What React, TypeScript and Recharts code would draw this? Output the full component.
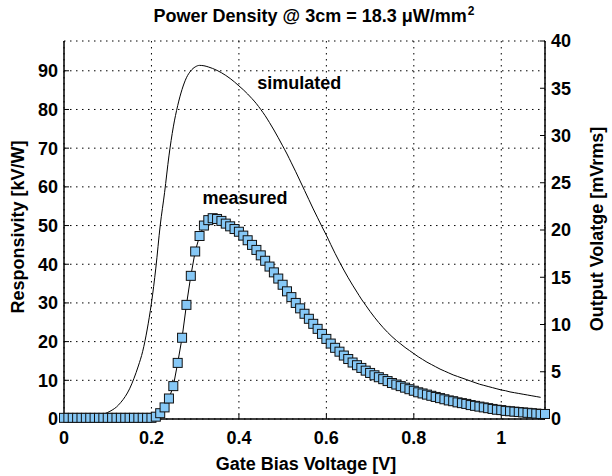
import React from 'react';
import { ComposedChart, Line, XAxis, YAxis, CartesianGrid, ReferenceDot } from 'recharts';

// gate bias sweep [V]
const gateVoltage = [
  0, 0.01, 0.02, 0.03, 0.04, 0.05, 0.06, 0.07, 0.08, 0.09,
  0.1, 0.11, 0.12, 0.13, 0.14, 0.15, 0.16, 0.17, 0.18, 0.19,
  0.2, 0.21, 0.22, 0.23, 0.24, 0.25, 0.26, 0.27, 0.28, 0.29,
  0.3, 0.31, 0.32, 0.33, 0.34, 0.35, 0.36, 0.37, 0.38, 0.39,
  0.4, 0.41, 0.42, 0.43, 0.44, 0.45, 0.46, 0.47, 0.48, 0.49,
  0.5, 0.51, 0.52, 0.53, 0.54, 0.55, 0.56, 0.57, 0.58, 0.59,
  0.6, 0.61, 0.62, 0.63, 0.64, 0.65, 0.66, 0.67, 0.68, 0.69,
  0.7, 0.71, 0.72, 0.73, 0.74, 0.75, 0.76, 0.77, 0.78, 0.79,
  0.8, 0.81, 0.82, 0.83, 0.84, 0.85, 0.86, 0.87, 0.88, 0.89,
  0.9, 0.91, 0.92, 0.93, 0.94, 0.95, 0.96, 0.97, 0.98, 0.99,
  1.0, 1.01, 1.02, 1.03, 1.04, 1.05, 1.06, 1.07, 1.08, 1.09,
  1.1,
];

// measured responsivity [kV/W]
const measured = [
  0.3, 0.3, 0.3, 0.3, 0.3, 0.3, 0.3, 0.3, 0.3, 0.3,
  0.3, 0.3, 0.3, 0.3, 0.3, 0.3, 0.3, 0.3, 0.3, 0.3,
  0.3, 0.6, 1.5, 3.0, 5.3, 8.5, 14.5, 21.0, 29.5, 37.0,
  43.3, 47.3, 50.0, 51.4, 51.9, 51.7, 51.2, 50.5, 49.8, 49.1,
  48.4, 47.4, 46.2, 45.0, 43.7, 42.3, 40.9, 39.4, 37.9, 36.3,
  34.7, 33.0, 31.5, 30.0, 28.6, 27.2, 25.9, 24.6, 23.3, 22.0,
  20.7, 19.5, 18.4, 17.4, 16.4, 15.5, 14.6, 13.9, 13.2, 12.5,
  11.9, 11.3, 10.8, 10.3, 9.8, 9.3, 8.9, 8.5, 8.1, 7.7,
  7.3, 6.9, 6.6, 6.3, 6.0, 5.7, 5.4, 5.1, 4.8, 4.6,
  4.3, 4.1, 3.9, 3.6, 3.4, 3.2, 3.0, 2.8, 2.6, 2.4,
  2.3, 2.1, 2.0, 1.9, 1.8, 1.7, 1.6, 1.5, 1.4, 1.3,
  1.3,
];

// simulated responsivity [kV/W]
const simulated = [
  0, 0, 0.05, 0.1, 0.15, 0.2, 0.3, 0.5, 0.8, 1.2,
  1.7, 2.3, 3.1, 4.3, 5.8, 7.8, 10.5, 13.7, 17.5, 23,
  30, 39, 50, 58.5, 68, 75.5, 81, 85.2, 88.2, 90.0,
  91.0, 91.4, 91.3, 91.0, 90.6, 90.1, 89.5, 88.8, 88.0, 87.1,
  86.1, 85.1, 84.0, 82.8, 81.5, 80.0, 78.4, 76.6, 74.7, 72.7,
  70.6, 68.5, 66.2, 63.9, 61.5, 59.1, 56.7, 54.3, 52.0, 49.7,
  47.5, 45.1, 42.8, 40.6, 38.5, 36.5, 34.6, 32.8, 31.0, 29.4,
  27.8, 26.3, 24.9, 23.6, 22.4, 21.3, 20.3, 19.4, 18.5, 17.7,
  16.9, 16.1, 15.4, 14.7, 14.1, 13.5, 12.9, 12.4, 11.9, 11.4,
  11.0, 10.6, 10.2, 9.8, 9.4, 9.0, 8.7, 8.4, 8.1, 7.8,
  7.5, 7.3, 7.0, 6.8, 6.6, 6.4, 6.2, 6.0, 5.8, 5.6,
  null,
];

const xTicks = [0, 0.2, 0.4, 0.6, 0.8, 1];
const leftTicks = [0, 10, 20, 30, 40, 50, 60, 70, 80, 90];
const rightTicks = [0, 5, 10, 15, 20, 25, 30, 35, 40];

const data = gateVoltage.map((v, i) => ({ v, measured: measured[i], simulated: simulated[i] }));

const FONT = '"Liberation Sans", Arial, Helvetica, sans-serif';
const tickStyle = { fontFamily: FONT, fontSize: 18, fontWeight: 'bold', fill: '#000' };
const labelStyle: React.CSSProperties = { fontFamily: FONT, fontSize: 18, fontWeight: 'bold', lineHeight: '20px', whiteSpace: 'nowrap' };

const SquareDot = (props: any) => {
  const { cx, cy, index } = props;
  if (cx == null || cy == null) return <g key={index} />;
  return (
    <rect key={index} x={cx - 4.5} y={cy - 4.5} width={9} height={9}
      fill="#86c8f6" stroke="#111" strokeWidth={1} />
  );
};

const textLabel = (text: string) => (props: any) => {
  const { viewBox } = props;
  const x = viewBox.x + (viewBox.width || 0) / 2;
  const y = viewBox.y + (viewBox.height || 0) / 2;
  return (
    <text x={x} y={y} textAnchor="middle" dominantBaseline="central"
      style={{ fontFamily: FONT, fontSize: 18, fontWeight: 'bold' }} fill="#000">
      {text}
    </text>
  );
};

export default function App() {
  return (
    <div style={{ position: 'absolute', left: 0, top: 0, width: 612, height: 476, background: '#fff' }}>
      <ComposedChart width={612} height={476} data={data}
        margin={{ top: 41, right: 27, bottom: 27, left: 24 }}>
        <CartesianGrid yAxisId="left" stroke="#000" strokeDasharray="1.5 4.5" strokeWidth={1} />
        <XAxis dataKey="v" type="number" domain={[0, 1.1]} ticks={xTicks}
          tickFormatter={(t: number) => String(t)}
          tick={tickStyle} tickSize={-5} tickMargin={17} height={30}
          axisLine={{ stroke: '#000', strokeWidth: 1.5 }} tickLine={{ stroke: '#000' }} />
        <XAxis xAxisId="top" dataKey="v" type="number" domain={[0, 1.1]} ticks={xTicks}
          orientation="top" tick={false} height={0} tickSize={-5}
          axisLine={{ stroke: '#333', strokeWidth: 1.5 }} tickLine={{ stroke: '#000' }} />
        <YAxis yAxisId="left" type="number" domain={[0, 97.7]} ticks={leftTicks}
          tick={tickStyle} tickSize={-5} tickMargin={11} width={40}
          axisLine={{ stroke: '#000', strokeWidth: 1.5 }} tickLine={{ stroke: '#000' }} />
        <YAxis yAxisId="right" orientation="right" type="number" domain={[0, 40]} ticks={rightTicks}
          allowDataOverflow tick={{ ...tickStyle, textAnchor: 'start' }} tickSize={-5} tickMargin={11} width={40}
          axisLine={{ stroke: '#000', strokeWidth: 1.5 }} tickLine={{ stroke: '#000' }} />
        <Line yAxisId="left" dataKey="measured" type="linear" stroke="#000" strokeWidth={1}
          dot={SquareDot} activeDot={false} isAnimationActive={false} />
        <Line yAxisId="left" dataKey="simulated" type="monotone" stroke="#000" strokeWidth={1}
          dot={false} activeDot={false} isAnimationActive={false} />
        <ReferenceDot yAxisId="left" x={0.538} y={86.8} r={0} stroke="none" label={textLabel('simulated')} />
        <ReferenceDot yAxisId="left" x={0.414} y={57.1} r={0} stroke="none" label={textLabel('measured')} />
      </ComposedChart>

      <div style={{ ...labelStyle, position: 'absolute', left: 0, top: 6, width: 612, textAlign: 'center', paddingLeft: 8 }}>
        Power Density @ 3cm = 18.3 μW/mm<sup style={{ fontSize: 12, lineHeight: 0, marginLeft: 1 }}>2</sup>
      </div>
      <div style={{ ...labelStyle, position: 'absolute', left: 0, top: 454, width: 612, textAlign: 'center' }}>
        Gate Bias Voltage [V]
      </div>
      <div style={{ position: 'absolute', left: 18, top: 227, width: 0, height: 0 }}>
        <div style={{ ...labelStyle, position: 'absolute', transform: 'translate(-50%, -50%) rotate(-90deg)' }}>
          Responsivity [kV/W]
        </div>
      </div>
      <div style={{ position: 'absolute', left: 597, top: 229, width: 0, height: 0 }}>
        <div style={{ ...labelStyle, position: 'absolute', transform: 'translate(-50%, -50%) rotate(-90deg)' }}>
          Output Volatge [mVrms]
        </div>
      </div>
    </div>
  );
}
